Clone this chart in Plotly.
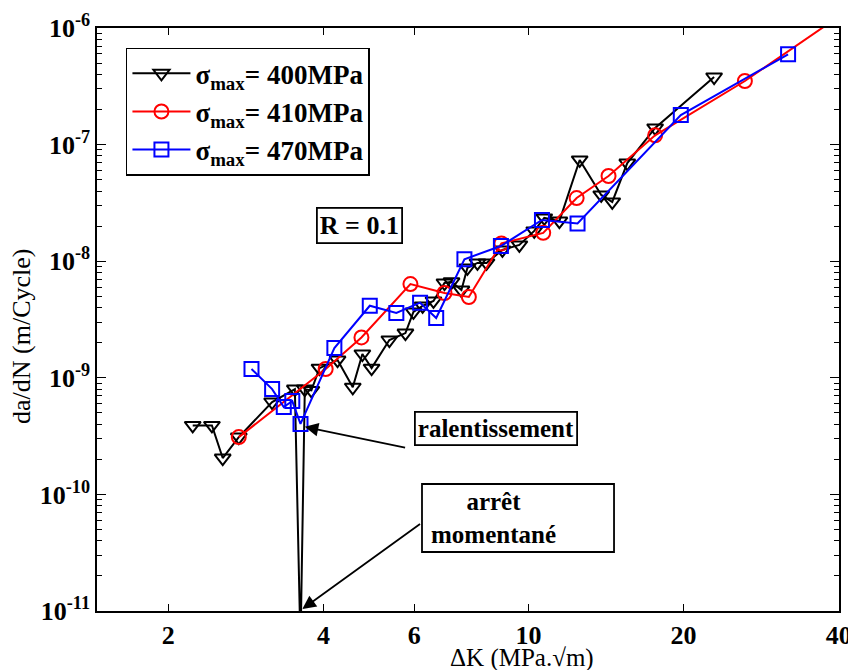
import math
import plotly.graph_objects as go

# ---- data ----
dk_400 = [2.23, 2.43, 2.55, 2.74, 3.18, 3.52, 3.61, 3.68, 3.79, 3.93, 4.26, 4.56,
          4.76, 4.96, 5.37, 5.77, 5.98, 6.23, 6.54, 6.87, 7.09, 7.41, 7.61, 7.96,
          8.29, 8.90, 9.60, 10.26, 10.73, 11.48, 12.57, 13.84, 14.54, 15.55, 17.61, 22.92]
dadn_400 = [3.9e-10, 3.9e-10, 2.05e-10, 3.1e-10, 6.2e-10, 8.0e-10, 5e-12, 8.0e-10,
            7.8e-10, 1.21e-9, 1.42e-9, 8.3e-10, 1.6e-9, 1.21e-9, 2.11e-9, 2.42e-9,
            3.67e-9, 4.13e-9, 4.56e-9, 6.5e-9, 6.65e-9, 5.66e-9, 8.75e-9, 9.66e-9,
            9.66e-9, 1.25e-8, 1.38e-8, 1.82e-8, 2.35e-8, 2.21e-8, 7.38e-8, 3.7e-8,
            3.22e-8, 6.95e-8, 1.39e-7, 3.8e-7]

dk_410 = [2.74, 4.04, 4.74, 5.90, 6.87, 7.66, 8.86, 10.68, 12.40, 14.30, 17.61, 26.3, 45.8]
dadn_410 = [3.1e-10, 1.19e-9, 2.22e-9, 6.37e-9, 5.34e-9, 4.93e-9, 1.42e-8, 1.75e-8,
            3.48e-8, 5.38e-8, 1.2e-7, 3.51e-7, 1.89e-6]

dk_470 = [2.90, 3.18, 3.35, 3.48, 3.61, 4.20, 4.92, 5.54, 6.16, 6.62, 7.51, 8.84,
          10.62, 12.45, 19.75, 31.9]
dadn_470 = [1.19e-9, 8.0e-10, 5.62e-10, 6.32e-10, 4.02e-10, 1.8e-9, 4.15e-9, 3.6e-9,
            4.41e-9, 3.26e-9, 1.04e-8, 1.35e-8, 2.26e-8, 2.11e-8, 1.79e-7, 5.95e-7]

series_names = ["σ<sub>max</sub>= 400MPa", "σ<sub>max</sub>= 410MPa", "σ<sub>max</sub>= 470MPa"]

x_ticks = [2, 4, 6, 10, 20, 40]
x_ticktext = ["2", "4", "6", "10", "20", "40"]
y_exps = [-11, -10, -9, -8, -7, -6]

FONT = "Liberation Serif"
BOLD = dict(family=FONT, size=26, weight="bold", color="black")

fig = go.Figure()
styles = [
    (dk_400, dadn_400, "black", "triangle-down-open"),
    (dk_410, dadn_410, "red", "circle-open"),
    (dk_470, dadn_470, "blue", "square-open"),
]
for (xs, ys, col, sym), nm in zip(styles, series_names):
    fig.add_trace(go.Scatter(
        x=xs, y=ys, mode="lines+markers", name=nm,
        line=dict(color=col, width=2),
        marker=dict(symbol=sym, size=14, color=col, line=dict(width=2, color=col)),
    ))

# the page body adds an 8px offset, so the figure is 8px smaller on each side
fig.update_layout(
    width=848, height=662,
    margin=dict(l=89, r=17, t=20, b=59, autoexpand=False),
    plot_bgcolor="white", paper_bgcolor="white",
    font=dict(family=FONT, size=24, color="black"),
    showlegend=True,
    legend=dict(x=0.039, y=0.966, xanchor="left", yanchor="top",
                bordercolor="black", borderwidth=1.5, bgcolor="white",
                font=dict(family=FONT, size=27, weight="bold", color="black"),
                tracegroupgap=0, itemwidth=58),
)

minor_y = [k * 10.0 ** e for e in range(-11, -6) for k in range(2, 10)]

fig.update_xaxes(
    type="log", range=[math.log10(1.454), math.log10(40.05)],
    tickmode="array", tickvals=x_ticks, ticktext=x_ticktext,
    ticks="inside", ticklen=7, tickwidth=1, tickcolor="black",
    showline=True, linecolor="black", linewidth=1.5, mirror="ticks",
    showgrid=False, zeroline=False, automargin=False,
    tickfont=BOLD,
)
fig.update_yaxes(
    type="log", range=[-11, -6],
    tickmode="array", tickvals=[10.0 ** e for e in y_exps],
    ticktext=["10<sup>%d</sup>" % e for e in y_exps],
    ticks="inside", ticklen=9, tickwidth=1, tickcolor="black",
    minor=dict(tickmode="array", tickvals=minor_y, ticks="inside", ticklen=5,
               tickcolor="black", showgrid=False),
    showline=True, linecolor="black", linewidth=1.5, mirror="ticks",
    showgrid=False, zeroline=False, automargin=False,
    tickfont=BOLD,
)

lx = math.log10

# arrows
fig.add_annotation(x=lx(3.68), y=lx(3.8e-10), xref="x", yref="y",
                   ax=lx(5.8), ay=lx(2.5e-10), axref="x", ayref="y",
                   text="", showarrow=True, arrowhead=2, arrowsize=1.5,
                   arrowwidth=1.8, arrowcolor="black")
fig.add_annotation(x=lx(3.64), y=lx(1.04e-11), xref="x", yref="y",
                   ax=lx(6.2), ay=lx(5.69e-11), axref="x", ayref="y",
                   text="", showarrow=True, arrowhead=2, arrowsize=1.5,
                   arrowwidth=1.8, arrowcolor="black")

# text boxes
fig.add_annotation(x=0.5377, y=0.283, xref="paper", yref="paper",
                   text="ralentissement", showarrow=False,
                   bordercolor="black", borderwidth=1.8, borderpad=2, bgcolor="white",
                   font=dict(family=FONT, size=25, weight="bold"))
fig.add_annotation(x=0.3538, y=0.6938, xref="paper", yref="paper",
                   text="R = 0.1", showarrow=False,
                   bordercolor="black", borderwidth=1.8, borderpad=2, bgcolor="white",
                   font=dict(family=FONT, size=26, weight="bold"))
fig.add_shape(type="rect", xref="paper", yref="paper",
              x0=0.438, x1=0.6968, y0=0.1012, y1=0.2178,
              line=dict(color="black", width=1.8), fillcolor="white", layer="above")
fig.add_annotation(x=0.5337, y=0.1595, xref="paper", yref="paper",
                   text="arrêt<br>momentané", showarrow=False, align="center",
                   xanchor="center", yanchor="middle",
                   font=dict(family=FONT, size=25, weight="bold"))

# axis titles
fig.add_annotation(x=-0.1011, y=0.4717, xref="paper", yref="paper",
                   text="da/dN (m/Cycle)", textangle=-90, showarrow=False,
                   xanchor="center", yanchor="middle",
                   font=dict(family=FONT, size=26))
fig.add_annotation(x=0.5728, y=-0.0806, xref="paper", yref="paper",
                   text="ΔK (MPa.√m)", showarrow=False,
                   xanchor="center", yanchor="middle",
                   font=dict(family=FONT, size=25))

fig.write_html("out.html")
